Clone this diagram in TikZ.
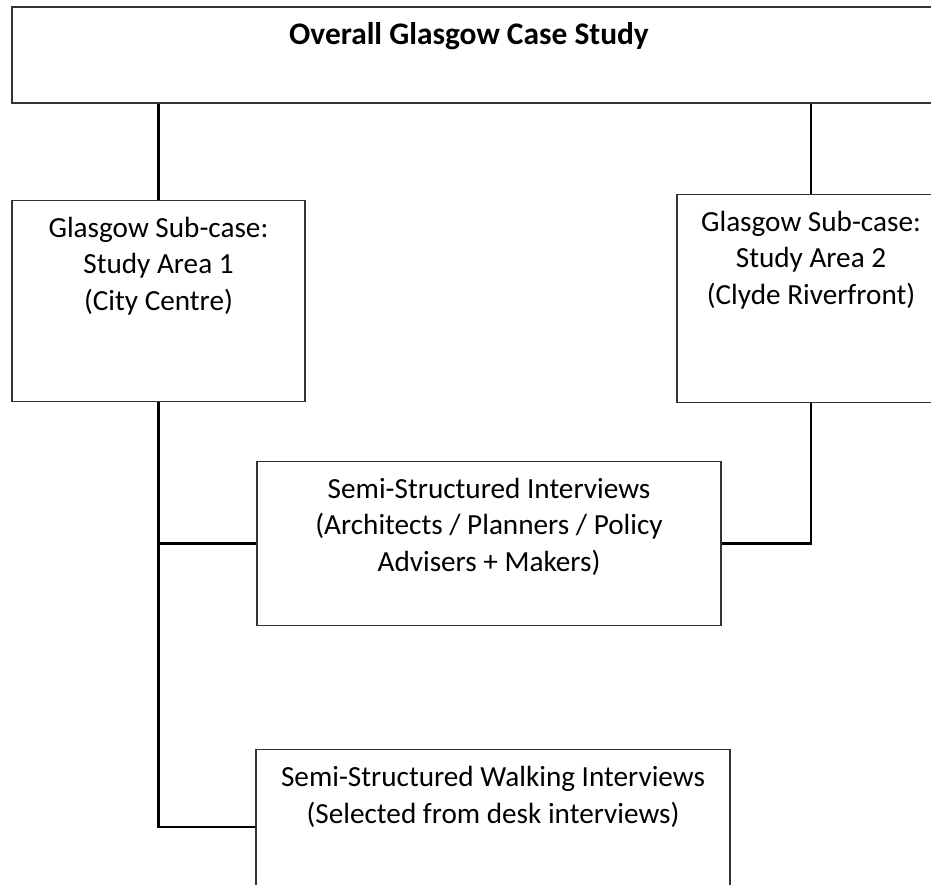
\documentclass[tikz,border=0pt]{standalone}
\usepackage{fontspec}
\setmainfont{Carlito}
\usetikzlibrary{positioning}

\tikzset{
  box/.style={rectangle, draw=black!80, line width=1.2pt, inner sep=0pt},
  boxtext/.style={anchor=north, align=center, inner sep=0pt, yshift=-11.8pt,
    font=\fontsize{29.2}{36.5}\selectfont},
  link/.style={line width=2.2pt}
}

\begin{document}
\begin{tikzpicture}[x=1pt, y=-1pt]
  \useasboundingbox (0,0) rectangle (931,885);

  \node[box, minimum width=926pt, minimum height=96pt,
    label={[boxtext, xshift=-6pt, yshift=-1pt, font=\fontsize{31.4}{36.5}\selectfont\bfseries]north:{\strut Overall Glasgow Case Study}}] (overall) at (475,55) {};
  \node[box, minimum width=293pt, minimum height=201pt,
    below right=96pt and 0pt of overall.south west,
    label={[boxtext]north:{\strut Glasgow Sub-case:\\Study Area 1\\(City Centre)}}] (area1) {};
  \node[box, minimum width=268pt, minimum height=208pt,
    below right=90pt and 665pt of overall.south west,
    label={[boxtext]north:{\strut Glasgow Sub-case:\\Study Area 2\\(Clyde Riverfront)}}] (area2) {};
  \node[box, minimum width=464pt, minimum height=164pt,
    below right=59pt and 245pt of area1.south west,
    label={[boxtext]north:{\strut Semi-Structured Interviews\\(Architects / Planners / Policy\\Advisers + Makers)}}] (interviews) {};
  \node[box, minimum width=474pt, minimum height=154pt,
    below right=123pt and -1pt of interviews.south west,
    label={[boxtext]north:{\strut Semi-Structured Walking Interviews\\(Selected from desk interviews)}}] (walking) {};

  \draw[link] (overall.south -| area1.north) -- (area1.north);
  \draw[link] (overall.south -| area2.north) -- (area2.north);
  \draw[link] (area1.south) |- (walking.west);
  \draw[link] (area1.south |- interviews.west) -- (interviews.west);
  \draw[link] (area2.south) |- (interviews.east);
\end{tikzpicture}
\end{document}
